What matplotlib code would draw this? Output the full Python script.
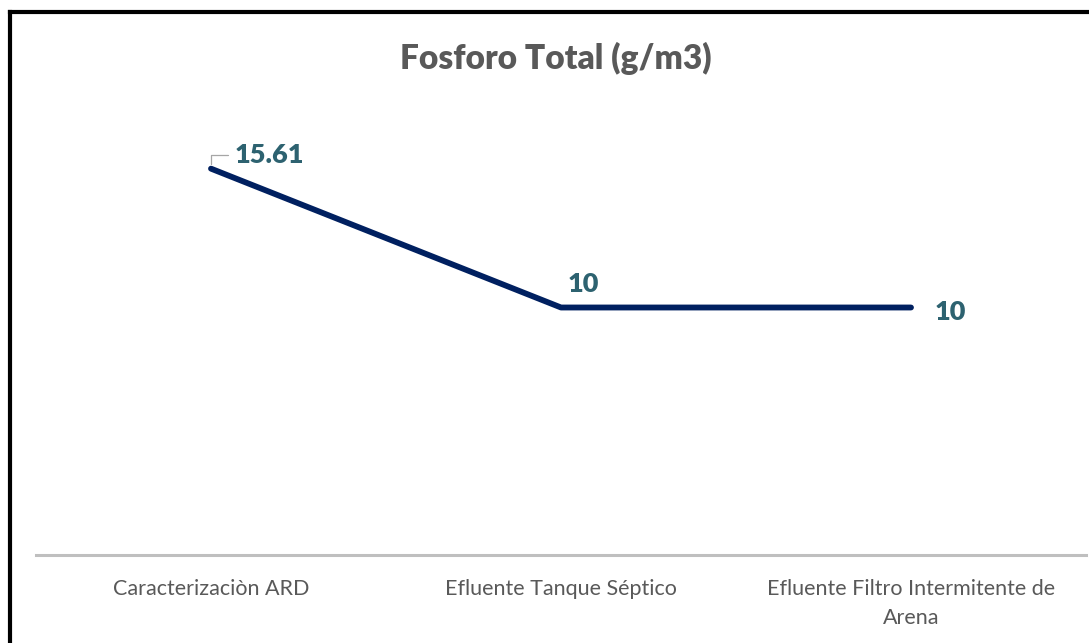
import matplotlib.pyplot as plt
from matplotlib.lines import Line2D

categories = ["Caracterizaciòn ARD", "Efluente Tanque Séptico",
              "Efluente Filtro Intermitente de\nArena"]
values = [15.61, 10, 10]
value_labels = ["15.61", "10", "10"]
title = "Fosforo Total (g/m3)"

plt.rcParams['font.family'] = ['Lato', 'DejaVu Sans']

W, H = 1089, 643
fig = plt.figure(figsize=(W / 100, H / 100), dpi=100)
ax = fig.add_axes([36 / W, 1 - 555 / H, 1050 / W, 495 / H])

x = list(range(len(categories)))
ax.plot(x, values, color="#002060", lw=4.2, solid_capstyle="round",
        solid_joinstyle="round", zorder=3)
ax.set_xlim(-0.5, len(categories) - 0.5)
ax.set_ylim(0, 20)

ax.set_yticks([])
ax.set_xticks(x)
ax.set_xticklabels(categories, fontsize=15.5, color="#595959",
                   linespacing=1.6, va="top")
ax.tick_params(axis="x", length=0, pad=17)
for s in ["top", "right", "left"]:
    ax.spines[s].set_visible(False)
ax.spines["bottom"].set_color("#BFBFBF")
ax.spines["bottom"].set_linewidth(2.2)

lab_kw = dict(fontsize=19.5, fontweight="heavy", color="#2D6270",
              textcoords="offset points")
# first label with leader line
ax.annotate(value_labels[0], xy=(x[0], values[0]), xytext=(17, 10),
            ha="left", va="center",
            arrowprops=dict(arrowstyle="-", color="#A6A6A6", lw=0.9,
                            connectionstyle="angle,angleA=0,angleB=90,rad=0",
                            shrinkA=3, shrinkB=3),
            **lab_kw)
ax.annotate(value_labels[1], xy=(x[1], values[1]), xytext=(16, 17),
            ha="center", va="center", **lab_kw)
ax.annotate(value_labels[2], xy=(x[2], values[2]), xytext=(28, -3),
            ha="center", va="center", **lab_kw)

fig.text(556 / W, 1 - 58 / H, title, ha="center", va="center",
         fontsize=24, fontweight="heavy", color="#595959")

# outer frame (left and top visible)
fig.add_artist(Line2D([10 / W, 10 / W], [0, 1 - 12 / H], color="black",
                      lw=3, transform=fig.transFigure, solid_capstyle="projecting"))
fig.add_artist(Line2D([10 / W, 1], [1 - 12 / H, 1 - 12 / H], color="black",
                      lw=3, transform=fig.transFigure, solid_capstyle="projecting"))

fig.savefig("out.png", dpi=100, facecolor="white")
